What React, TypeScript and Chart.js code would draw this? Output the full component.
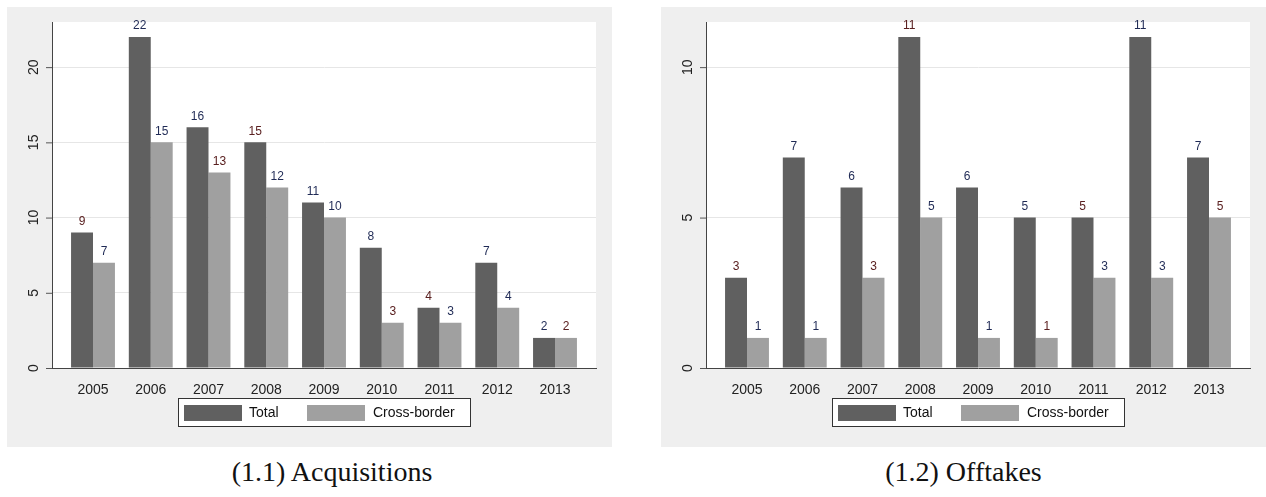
import { useEffect, useRef } from "react"
import { Chart, registerables } from "chart.js"

Chart.register(...registerables)

const years = [2005, 2006, 2007, 2008, 2009, 2010, 2011, 2012, 2013]
const acqTotal = [9, 22, 16, 15, 11, 8, 4, 7, 2]
const acqCross = [7, 15, 13, 12, 10, 3, 3, 4, 2]
const offTotal = [3, 7, 6, 11, 6, 5, 5, 11, 7]
const offCross = [1, 1, 3, 5, 1, 1, 3, 3, 5]
const acqTicks = [0, 5, 10, 15, 20]
const offTicks = [0, 5, 10]
const seriesNames = ["Total", "Cross-border"]
const colors = ["#606060", "#a0a0a0"]

const FONT = "Arial, 'Liberation Sans', sans-serif"

const panelPlugin = {
  id: "panel",
  beforeDraw(chart: any) {
    const { ctx, chartArea: a } = chart
    ctx.save()
    ctx.fillStyle = "#fff"
    ctx.fillRect(a.left, a.top, a.right - a.left, a.bottom - a.top)
    ctx.restore()
  },
  afterDraw(chart: any, _args: any, opts: any) {
    const { ctx, chartArea: a } = chart
    const y = chart.scales.y
    ctx.save()
    // y ticks: rotated labels and tick marks
    ctx.strokeStyle = "#555"
    ctx.lineWidth = 1
    ctx.fillStyle = "#222"
    ctx.font = `14px ${FONT}`
    ctx.textAlign = "center"
    ctx.textBaseline = "middle"
    for (const t of opts.ticks) {
      const py = y.getPixelForValue(t)
      ctx.beginPath()
      ctx.moveTo(a.left - 6, py + 0.5)
      ctx.lineTo(a.left, py + 0.5)
      ctx.stroke()
      ctx.save()
      ctx.translate(a.left - 18, py)
      ctx.rotate(-Math.PI / 2)
      ctx.fillText(String(t), 0, 0)
      ctx.restore()
    }
    // value labels
    ctx.font = `12px ${FONT}`
    ctx.textBaseline = "bottom"
    chart.data.datasets.forEach((ds: any, i: number) => {
      chart.getDatasetMeta(i).data.forEach((bar: any, j: number) => {
        ctx.fillStyle = (i + j) % 3 === 0 ? "#5a2020" : "#1f2a55"
        ctx.fillText(String(ds.data[j].y), bar.x, bar.y - 5)
      })
    })
    // legend
    const cx = (a.left + a.right) / 2
    const lw = 292
    const top = a.bottom + 30
    const lx = cx - lw / 2
    ctx.fillStyle = "#fff"
    ctx.fillRect(lx, top, lw, 28)
    ctx.strokeStyle = "#333"
    ctx.strokeRect(lx + 0.5, top + 0.5, lw, 28)
    ctx.font = `14px ${FONT}`
    ctx.textAlign = "left"
    ctx.textBaseline = "middle"
    const items = [
      { x: lx + 6, tx: lx + 71 },
      { x: lx + 129, tx: lx + 195 },
    ]
    items.forEach((it, i) => {
      ctx.fillStyle = colors[i]
      ctx.fillRect(it.x, top + 7, 58, 16)
      ctx.fillStyle = "#111"
      ctx.fillText(seriesNames[i], it.tx, top + 15)
    })
    ctx.restore()
  },
}

function Panel({ total, cross, ticks, max, width }: { total: number[]; cross: number[]; ticks: number[]; max: number; width: number }) {
  const ref = useRef<HTMLCanvasElement>(null)
  useEffect(() => {
    if (!ref.current) return
    const chart = new Chart(ref.current, {
      type: "bar",
      data: {
        datasets: [total, cross].map((vals, i) => ({
          label: seriesNames[i],
          data: years.map((yr, j) => ({ x: yr, y: vals[j] })),
          backgroundColor: colors[i],
          borderWidth: 0,
          categoryPercentage: 0.76,
          barPercentage: 1,
        })),
      },
      options: {
        animation: false,
        responsive: false,
        devicePixelRatio: 1,
        layout: { padding: { top: 15, right: width - 45 - 544 } },
        plugins: { legend: { display: false }, tooltip: { enabled: false }, panel: { ticks } } as any,
        scales: {
          x: {
            type: "linear",
            offset: false,
            min: 2004.29,
            max: 2013.71,
            afterBuildTicks: (s: any) => { s.ticks = years.map((v) => ({ value: v })) },
            afterFit: (s: any) => { s.height = 79 },
            grid: { display: false },
            border: { color: "#444" },
            ticks: { color: "#222", font: { size: 14, family: FONT }, padding: 6, callback: (v: any) => String(v), maxRotation: 0, autoSkip: false },
          },
          y: {
            min: 0,
            max,
            afterBuildTicks: (s: any) => { s.ticks = ticks.map((v) => ({ value: v })) },
            afterFit: (s: any) => { s.width = 45 },
            grid: { color: (c: any) => (c.tick && c.tick.value === 0 ? "rgba(0,0,0,0)" : "#e6e6e6"), drawTicks: false },
            border: { color: "#444" },
            ticks: { display: false },
          },
        },
      },
      plugins: [panelPlugin],
    })
    return () => chart.destroy()
  }, [])
  return <canvas ref={ref} width={width} height={440} style={{ display: "block" }} />
}

export default function App() {
  const cap: any = { position: "absolute", top: 456, fontFamily: "'Liberation Serif', 'DejaVu Serif', serif", fontSize: 28, color: "#111", textAlign: "center" }
  return (
    <div style={{ position: "absolute", left: 0, top: 0, width: 1266, height: 497, background: "#fff" }}>
      <div style={{ position: "absolute", left: 7, top: 7, background: "#efefef" }}>
        <Panel total={acqTotal} cross={acqCross} ticks={acqTicks} max={23} width={605} />
      </div>
      <div style={{ position: "absolute", left: 661, top: 7, background: "#efefef" }}>
        <Panel total={offTotal} cross={offCross} ticks={offTicks} max={11.5} width={605} />
      </div>
      <div style={{ ...cap, left: 7, width: 650 }}>(1.1) Acquisitions</div>
      <div style={{ ...cap, left: 661, width: 605 }}>(1.2) Offtakes</div>
    </div>
  )
}
